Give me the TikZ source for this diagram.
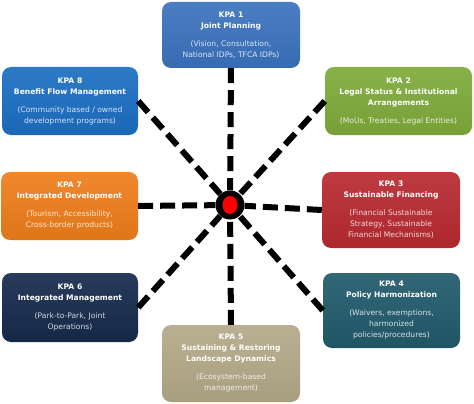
\documentclass[tikz,border=0pt]{standalone}
\usepackage{fontspec}
\usetikzlibrary{shapes.geometric}
\setmainfont{DejaVu Sans}
\definecolor{cA}{HTML}{3B72BD}
\definecolor{cB}{HTML}{7EAA3A}
\definecolor{cC}{HTML}{B72A30}
\definecolor{cD}{HTML}{215A6B}
\definecolor{cE}{HTML}{B3A988}
\definecolor{cF}{HTML}{162A4C}
\definecolor{cG}{HTML}{EE7D1B}
\definecolor{cH}{HTML}{1B6EC2}
\newcommand\kpasub[1]{{\color{white!82!kbg}#1}}
\tikzset{
  kpa/.style={rectangle, rounded corners=9pt, draw=none, text=white, align=center,
    top color=#1!92!white, bottom color=#1!94!black,
    execute at begin node={\colorlet{kbg}{#1}},
    font=\fontsize{7.6}{11}\selectfont, inner sep=0pt},
  spoke/.style={line width=6pt, dash pattern=on 15pt off 7pt, black},
}
\begin{document}
\begin{tikzpicture}[x=1pt,y=-1pt]
\useasboundingbox (0,0) rectangle (474,404);
\node[kpa=cA, minimum width=138pt, minimum height=66pt] (k1) at (231,35)
  {\textbf{KPA 1}\\\textbf{Joint Planning}\\[7pt]\kpasub{(Vision, Consultation,}\\\kpasub{National IDPs, TFCA IDPs)}};
\node[kpa=cH, minimum width=136pt, minimum height=68pt] (k8) at (70,101)
  {\textbf{KPA 8}\\\textbf{Benefit Flow Management}\\[7pt]\kpasub{(Community based / owned}\\\kpasub{development programs)}};
\node[kpa=cB, minimum width=147pt, minimum height=68pt] (k2) at (398.5,101)
  {\textbf{KPA 2}\\\textbf{Legal Status \& Institutional}\\\textbf{Arrangements}\\[7pt]\kpasub{(MoUs, Treaties, Legal Entities)}};
\node[kpa=cG, minimum width=137pt, minimum height=68pt] (k7) at (69.5,206)
  {\textbf{KPA 7}\\\textbf{Integrated Development}\\[7pt]\kpasub{(Tourism, Accessibility,}\\\kpasub{Cross-border products)}};
\node[kpa=cC, minimum width=138pt, minimum height=76pt] (k3) at (391,210)
  {\textbf{KPA 3}\\\textbf{Sustainable Financing}\\[7pt]\kpasub{(Financial Sustainable}\\\kpasub{Strategy, Sustainable}\\\kpasub{Financial Mechanisms)}};
\node[kpa=cF, minimum width=136pt, minimum height=69pt] (k6) at (70,307.5)
  {\textbf{KPA 6}\\\textbf{Integrated Management}\\[7pt]\kpasub{(Park-to-Park, Joint}\\\kpasub{Operations)}};
\node[kpa=cD, minimum width=137pt, minimum height=75pt] (k4) at (391.5,310.5)
  {\textbf{KPA 4}\\\textbf{Policy Harmonization}\\[7pt]\kpasub{(Waivers, exemptions,}\\\kpasub{harmonized}\\\kpasub{policies/procedures)}};
\node[kpa=cE, minimum width=138pt, minimum height=77pt] (k5) at (231,363.5)
  {\textbf{KPA 5}\\\textbf{Sustaining \& Restoring}\\\textbf{Landscape Dynamics}\\[7pt]\kpasub{(Ecosystem-based}\\\kpasub{management)}};
\node[circle, fill=black, minimum size=29pt, inner sep=0pt] (c) at (230,205) {};
\node[ellipse, fill=red, minimum width=15pt, minimum height=18pt, inner sep=0pt] (r) at (c) {};
\draw[spoke] (k1.south) -- (c);
\draw[spoke] (k5.north) -- (c);
\draw[spoke] (k8.east) -- (c);
\draw[spoke] (k2.west) -- (c);
\draw[spoke] (k7.east) -- (c);
\draw[spoke] (k3.west) -- (c);
\draw[spoke] (k6.east) -- (c);
\draw[spoke] (k4.west) -- (c);
\end{tikzpicture}
\end{document}
